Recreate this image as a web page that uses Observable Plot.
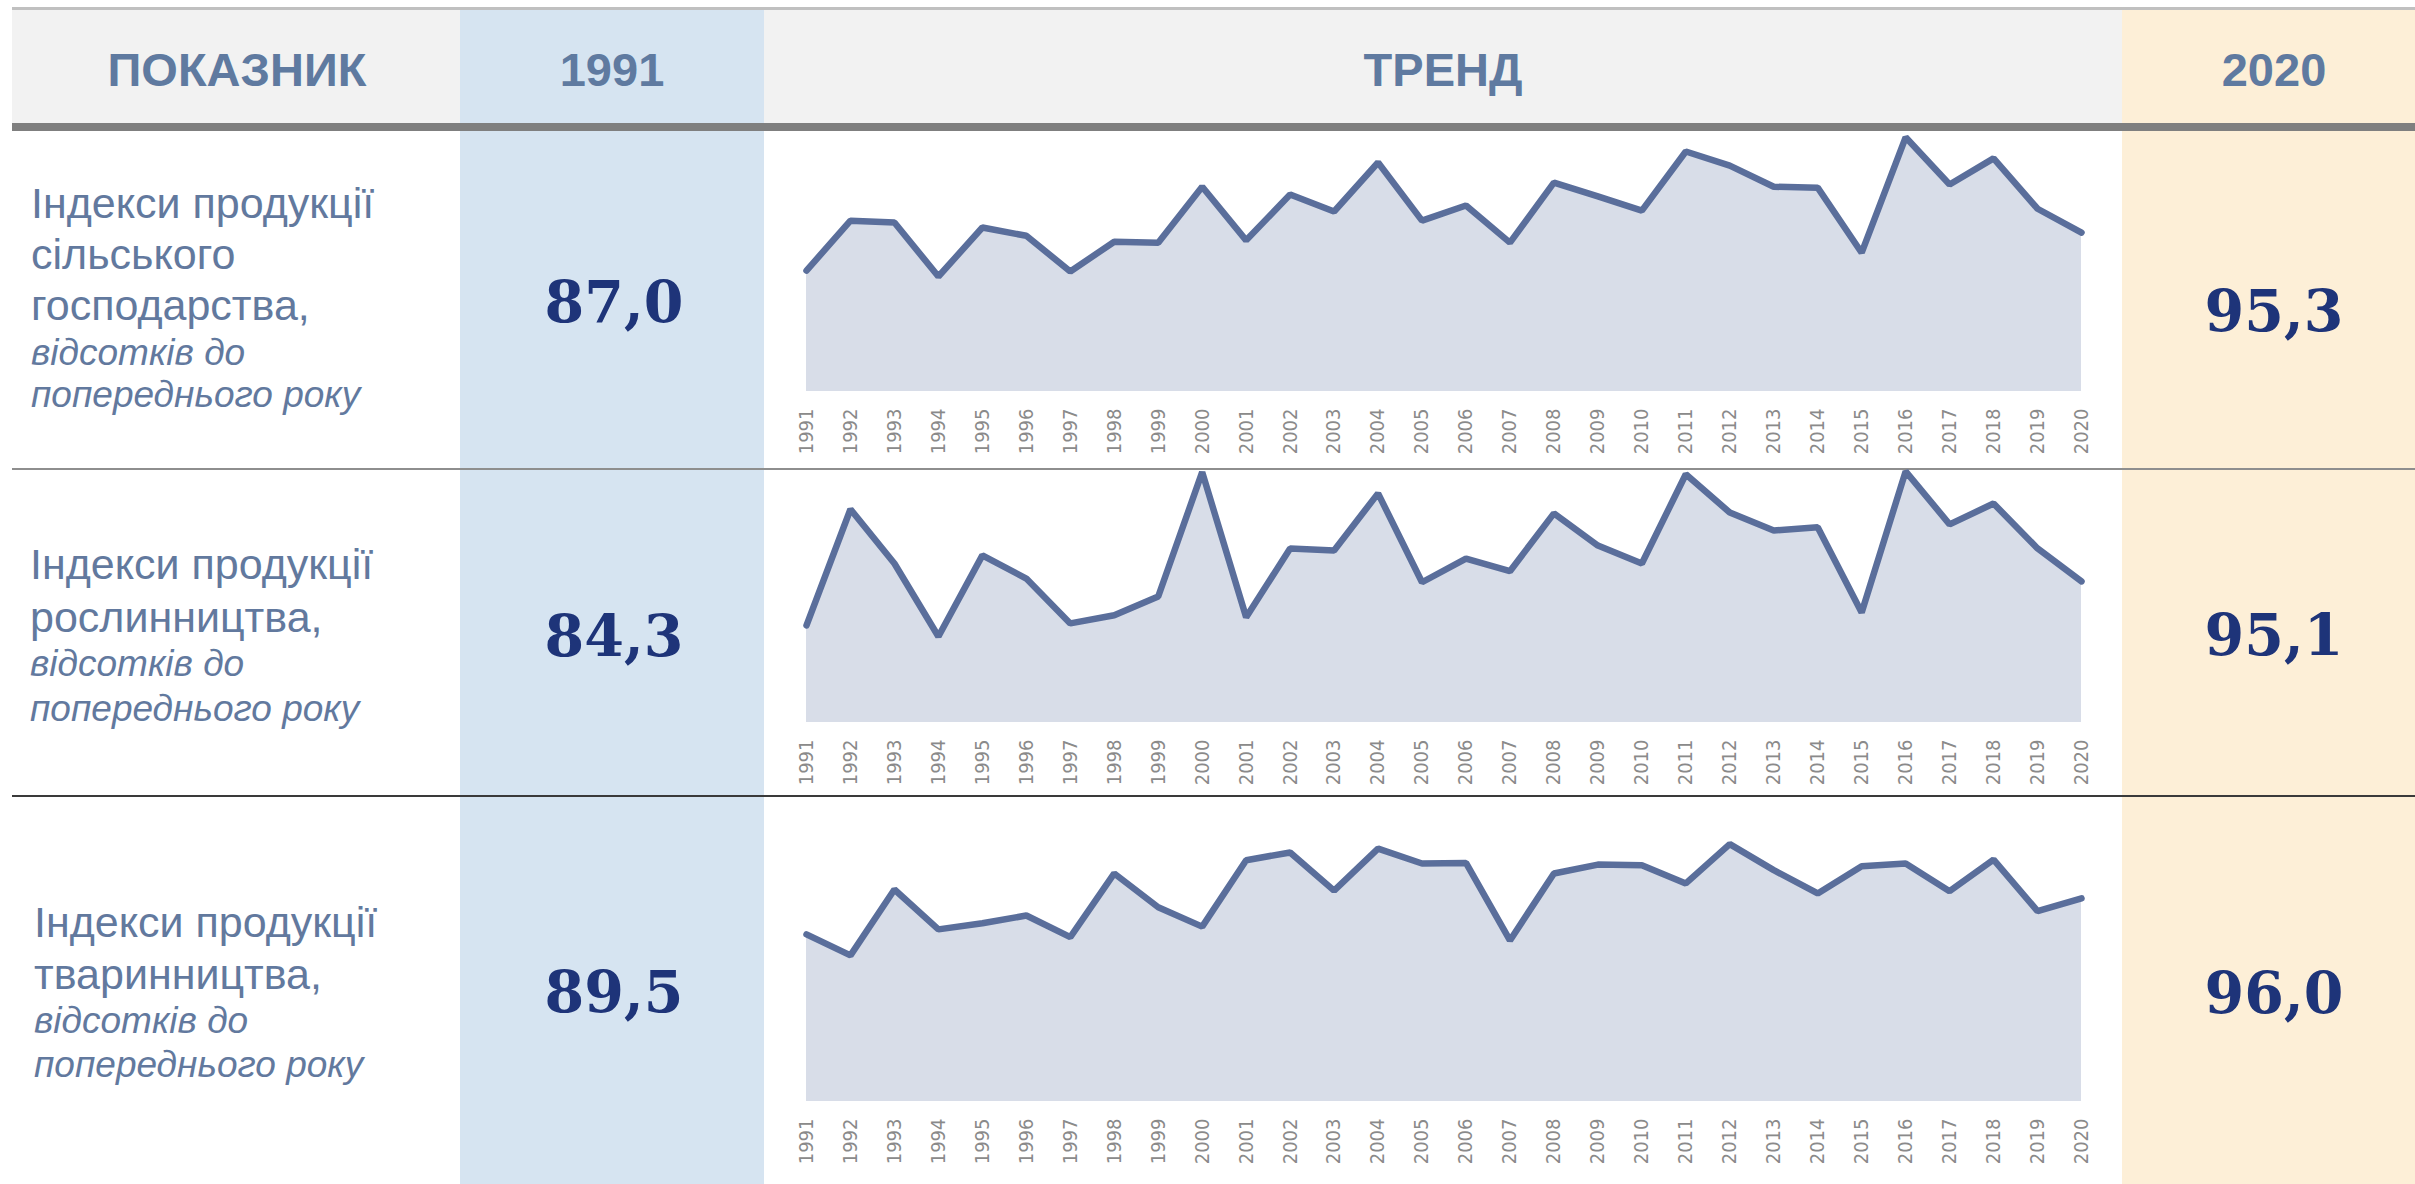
<!DOCTYPE html>
<html>
<head>
<meta charset="utf-8">
<script src="https://cdn.jsdelivr.net/npm/d3@7"></script>
<script src="https://cdn.jsdelivr.net/npm/@observablehq/plot@0.6"></script>
<style>
  html, body { margin: 0; padding: 0; background: #ffffff; }
  #wrap { position: relative; width: 2415px; height: 1184px; overflow: hidden; background: #ffffff; }
  .bg { position: absolute; }
  .chart { position: absolute; }
  .chart svg { overflow: visible; }
  #overlay { position: absolute; left: 0; top: 0; pointer-events: none; }
</style>
</head>
<body>
<div id="wrap"></div>
<script>
// ---------- DATA ----------
const headers = ["ПОКАЗНИК", "1991", "ТРЕНД", "2020"];

const years = [1991, 1992, 1993, 1994, 1995, 1996, 1997, 1998, 1999, 2000,
               2001, 2002, 2003, 2004, 2005, 2006, 2007, 2008, 2009, 2010,
               2011, 2012, 2013, 2014, 2015, 2016, 2017, 2018, 2019, 2020];

// Індекси продукції сільського господарства
const agriculture = [87.0, 97.9, 97.5, 85.7, 96.4, 94.6, 86.8, 93.3, 93.1, 105.3,
                     93.6, 103.6, 99.9, 110.6, 97.9, 101.2, 93.1, 106.2, 103.2, 100.1,
                     113.0, 109.9, 105.3, 105.1, 90.9, 116.1, 105.8, 111.5, 100.5, 95.3];
// Індекси продукції рослинництва
const crops = [84.3, 112.8, 99.5, 81.6, 101.5, 95.8, 84.8, 86.8, 91.4, 121.9,
               86.3, 103.2, 102.7, 116.7, 94.9, 100.7, 97.6, 111.8, 103.9, 99.5,
               121.4, 112.0, 107.6, 108.4, 87.5, 122.1, 109.1, 114.2, 103.2, 95.1];
// Індекси продукції тваринництва
const livestock = [89.5, 85.7, 97.6, 90.4, 91.5, 92.9, 89.0, 100.5, 94.4, 90.9,
                   102.9, 104.3, 97.4, 105.0, 102.3, 102.4, 88.4, 100.5, 102.1, 102.0,
                   98.7, 105.8, 101.1, 96.9, 101.8, 102.3, 97.3, 103.0, 93.7, 96.0];

// y-axis bounds of each sparkline
const yLow  = [60.6, 60.5, 59.3];
const yHigh = [115.4, 120.1, 112.6];

const labelMain = [
  ["Індекси продукції", "сільського", "господарства,"],
  ["Індекси продукції", "рослинництва,"],
  ["Індекси продукції", "тваринництва,"]
];
const labelUnit = ["відсотків до", "попереднього року"];

const value1991 = ["87,0", "84,3", "89,5"];
const value2020 = ["95,3", "95,1", "96,0"];

// ---------- LAYOUT ----------
const W = 2415, H = 1184;
const wrap = d3.select("#wrap");

function rect(x, y, w, h, color) {
  wrap.append("div").attr("class", "bg")
    .style("left", x + "px").style("top", y + "px")
    .style("width", w + "px").style("height", h + "px")
    .style("background", color);
}

// header background + column tints
rect(12, 10, W - 12, 113, "#f2f2f2");
rect(460, 10, 304, H - 10, "#d6e4f1");
rect(2122, 10, W - 2122, H - 10, "#fdefd7");
// top thin line, thick header bar
rect(12, 7, W - 12, 3, "#c0c0c0");
rect(12, 123, W - 12, 8, "#7f7f7f");
// row separators
rect(12, 468, W - 12, 2, "#8e8e8e");
rect(12, 795, W - 12, 2, "#3a3a3a");

// ---------- SPARKLINES ----------
const series = [agriculture, crops, livestock];
const rowBox = [
  {top: 131, height: 339, mb: 79},
  {top: 470, height: 327, mb: 75},
  {top: 797, height: 387, mb: 83}
];

series.forEach((vals, i) => {
  const data = years.map((yr, j) => ({year: yr, value: vals[j]}));
  const lo = yLow[i], hi = yHigh[i];
  const chart = Plot.plot({
    width: 1358,
    height: rowBox[i].height,
    marginLeft: 42,
    marginRight: 41,
    marginTop: 9,
    marginBottom: rowBox[i].mb,
    x: {domain: [years[0], years[years.length - 1]]},
    y: {domain: [lo, hi], axis: null},
    style: {
      background: "transparent",
      overflow: "visible",
      color: "#8a8a8a",
      fontFamily: "'DejaVu Sans Condensed', 'DejaVu Sans', sans-serif",
      fontSize: "20px"
    },
    marks: [
      Plot.areaY(data, {x: "year", y1: lo, y2: "value", fill: "#d8dde8"}),
      Plot.lineY(data, {x: "year", y: "value", stroke: "#5a6e9b", strokeWidth: 6.5,
                        strokeLinejoin: "miter", strokeLinecap: "round"}),
      Plot.axisX(years, {tickRotate: -90, tickSize: 0, tickPadding: 17,
                         tickFormat: d => String(d), fontSize: 20, label: null})
    ]
  });
  wrap.append("div").attr("class", "chart")
    .style("left", "764px").style("top", rowBox[i].top + "px")
    .node().appendChild(chart);
});

// ---------- TEXT ----------
const ov = wrap.append("svg").attr("id", "overlay")
  .attr("width", W).attr("height", H);

const headX = [237, 612, 1443, 2274];
headers.forEach((t, i) => {
  ov.append("text").attr("x", headX[i]).attr("y", 86)
    .attr("text-anchor", "middle")
    .style("font-family", "'Liberation Sans', Arial, sans-serif")
    .style("font-weight", "bold").style("font-size", "47px")
    .style("fill", "#5f7aa0").text(t);
});

const mainBase = [[218, 269, 320], [579, 632], [937, 989]];
const unitBase = [[365, 407], [676, 721], [1033, 1077]];
const labX = [31, 30, 34];
labelMain.forEach((lines, r) => {
  lines.forEach((t, k) => {
    ov.append("text").attr("x", labX[r]).attr("y", mainBase[r][k])
      .style("font-family", "'Liberation Sans', Arial, sans-serif")
      .style("font-size", "43px").style("fill", "#62799e").text(t);
  });
  labelUnit.forEach((t, k) => {
    ov.append("text").attr("x", labX[r]).attr("y", unitBase[r][k])
      .style("font-family", "'Liberation Sans', Arial, sans-serif")
      .style("font-style", "italic")
      .style("font-size", "37px").style("fill", "#62799e").text(t);
  });
});

const vBaseL = [322, 656, 1012];
const vBaseR = [331, 655, 1013];
[value1991, value2020].forEach((arr, c) => {
  arr.forEach((t, r) => {
    ov.append("text")
      .attr("x", c === 0 ? 614 : 2274)
      .attr("y", c === 0 ? vBaseL[r] : vBaseR[r])
      .attr("text-anchor", "middle")
      .style("font-family", "'DejaVu Serif', 'Liberation Serif', serif")
      .style("font-weight", "bold").style("font-size", "57px")
      .style("fill", "#1e3479").text(t);
  });
});
</script>
</body>
</html>
